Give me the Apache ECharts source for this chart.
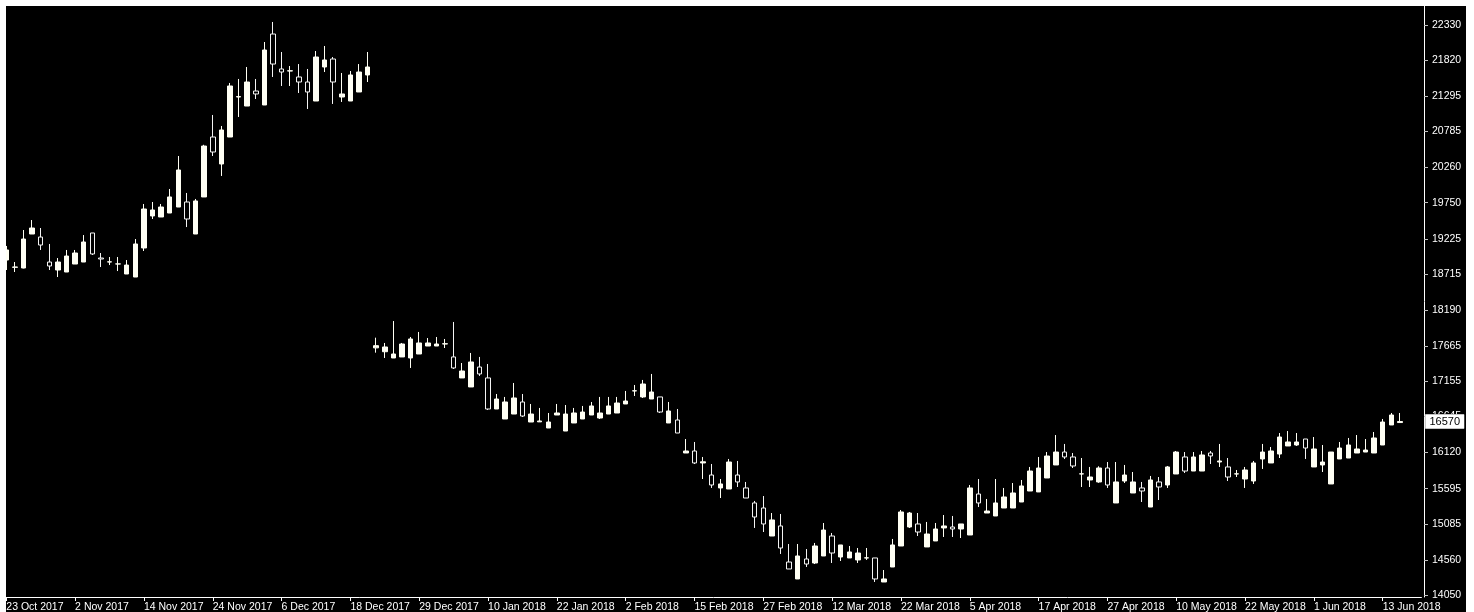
<!DOCTYPE html>
<html><head><meta charset="utf-8">
<script src="https://cdn.jsdelivr.net/npm/echarts@6/dist/echarts.min.js"></script>
<style>
html,body{margin:0;padding:0;background:#fff;width:1474px;height:612px;overflow:hidden}
#chart{position:absolute;left:6px;top:6px;width:1460px;height:606px;background:#000}
</style></head><body><div id="chart"></div>
<script>
const dates = [
'23 Oct 2017','24 Oct 2017','25 Oct 2017','26 Oct 2017','27 Oct 2017','30 Oct 2017','31 Oct 2017','1 Nov 2017',
'2 Nov 2017','3 Nov 2017','6 Nov 2017','7 Nov 2017','8 Nov 2017','9 Nov 2017','10 Nov 2017','13 Nov 2017',
'14 Nov 2017','15 Nov 2017','16 Nov 2017','17 Nov 2017','20 Nov 2017','21 Nov 2017','22 Nov 2017','23 Nov 2017',
'24 Nov 2017','27 Nov 2017','28 Nov 2017','29 Nov 2017','30 Nov 2017','1 Dec 2017','4 Dec 2017','5 Dec 2017',
'6 Dec 2017','7 Dec 2017','8 Dec 2017','11 Dec 2017','12 Dec 2017','13 Dec 2017','14 Dec 2017','15 Dec 2017',
'18 Dec 2017','19 Dec 2017','20 Dec 2017','21 Dec 2017','22 Dec 2017','26 Dec 2017','27 Dec 2017','28 Dec 2017',
'29 Dec 2017','1 Jan 2018','2 Jan 2018','3 Jan 2018','4 Jan 2018','5 Jan 2018','8 Jan 2018','9 Jan 2018',
'10 Jan 2018','11 Jan 2018','12 Jan 2018','15 Jan 2018','16 Jan 2018','17 Jan 2018','18 Jan 2018','19 Jan 2018',
'22 Jan 2018','23 Jan 2018','24 Jan 2018','25 Jan 2018','29 Jan 2018','30 Jan 2018','31 Jan 2018','1 Feb 2018',
'2 Feb 2018','5 Feb 2018','6 Feb 2018','7 Feb 2018','8 Feb 2018','12 Feb 2018','13 Feb 2018','14 Feb 2018',
'15 Feb 2018','16 Feb 2018','19 Feb 2018','20 Feb 2018','21 Feb 2018','22 Feb 2018','23 Feb 2018','26 Feb 2018',
'27 Feb 2018','28 Feb 2018','1 Mar 2018','2 Mar 2018','5 Mar 2018','6 Mar 2018','7 Mar 2018','8 Mar 2018',
'12 Mar 2018','13 Mar 2018','14 Mar 2018','15 Mar 2018','16 Mar 2018','19 Mar 2018','20 Mar 2018','21 Mar 2018',
'22 Mar 2018','23 Mar 2018','26 Mar 2018','27 Mar 2018','28 Mar 2018','29 Mar 2018','3 Apr 2018','4 Apr 2018',
'5 Apr 2018','6 Apr 2018','9 Apr 2018','10 Apr 2018','11 Apr 2018','12 Apr 2018','13 Apr 2018','16 Apr 2018',
'17 Apr 2018','18 Apr 2018','19 Apr 2018','20 Apr 2018','23 Apr 2018','24 Apr 2018','25 Apr 2018','26 Apr 2018',
'27 Apr 2018','30 Apr 2018','2 May 2018','3 May 2018','4 May 2018','7 May 2018','8 May 2018','9 May 2018',
'10 May 2018','11 May 2018','14 May 2018','15 May 2018','16 May 2018','17 May 2018','18 May 2018','21 May 2018',
'22 May 2018','23 May 2018','24 May 2018','25 May 2018','28 May 2018','29 May 2018','30 May 2018','31 May 2018',
'1 Jun 2018','4 Jun 2018','5 Jun 2018','6 Jun 2018','7 Jun 2018','8 Jun 2018','11 Jun 2018','12 Jun 2018',
'13 Jun 2018','14 Jun 2018','15 Jun 2018'
];
const opens = [
18916,18810,18800,19294,19250,18887,18771,18742,18858,18887,19309,18945,18887,18858,18713,18669,
19091,19556,19541,19599,19686,19759,19294,19832,20703,20311,20703,21284,21153,21371,21168,22199,
21691,21662,21575,21502,21226,21720,21836,21284,21226,21357,21604,
17640,17584,17493,17508,17493,17551,17667,17667,17696,17508,17203,17072,17362,17203,16752,16607,
16679,16854,16563,16565,16476,16665,16432,16549,16607,16665,16621,16679,16694,16825,17014,16927,
16897,16927,16549,16592,16113,16142,15968,15793,15605,15590,15793,15605,15387,15314,14907,15053,
14529,14283,14573,14515,14617,14907,14602,14588,14559,14588,14588,14239,14457,14762,15038,15082,
14748,14835,15024,15038,15009,14922,15517,15241,15198,15314,15314,15401,15561,15547,15750,15939,
16127,16055,15808,15721,15692,15895,15387,15706,15532,15605,15328,15692,15648,15808,16055,15851,
15851,16113,15982,15910,15808,15735,15706,16026,15968,16098,16215,16229,16316,15910,15939,15663,
16026,16040,16113,16127,16113,16229,16520,16555
];
const closes = [
19062,18815,19221,19381,19134,18829,18887,18974,19018,19178,19004,18931,18890,18860,18843,19149,
19657,19643,19686,19832,20224,19512,19774,20572,20485,20805,21444,21290,21502,21328,21967,21763,
21647,21665,21502,21357,21865,21822,21502,21328,21604,21647,21720,
17672,17653,17551,17696,17769,17711,17711,17696,17700,17348,17304,17435,17261,16752,16897,16854,
16912,16650,16679,16578,16563,16694,16679,16694,16708,16796,16694,16796,16839,16868,17017,17115,
16999,16708,16723,16403,16142,15968,15985,15648,15663,15982,15692,15459,15183,15082,15140,14733,
14428,14617,14500,14762,14994,14660,14777,14675,14660,14590,14283,14283,14777,15256,15241,14965,
14936,15009,15053,15009,15082,15605,15387,15270,15387,15474,15532,15634,15851,15895,16069,16127,
16055,15924,15810,15764,15895,15648,15692,15793,15692,15561,15721,15619,15910,16127,15851,16055,
16084,16069,15997,15764,15810,15866,15968,16127,16142,16345,16273,16273,16185,16171,15982,16127,
16185,16229,16171,16156,16331,16563,16665,16570
];
const lows = [
18771,18742,18795,19294,19062,18771,18669,18742,18858,18887,18989,18814,18843,18756,18713,18669,
19047,19512,19541,19599,19686,19395,19294,19832,20427,20137,20703,20994,21153,21255,21168,21575,
21444,21444,21342,21110,21226,21647,21183,21212,21226,21357,21502,
17570,17493,17493,17508,17348,17551,17667,17667,17638,17333,17203,17072,17232,16737,16752,16607,
16679,16636,16563,16563,16476,16665,16432,16549,16607,16665,16607,16679,16694,16825,16941,16912,
16897,16694,16549,16403,16113,15953,15735,15605,15459,15590,15619,15459,15024,14965,14907,14646,
14428,14283,14457,14500,14617,14515,14544,14588,14515,14559,14239,14239,14457,14762,15024,14907,
14748,14835,14893,14893,14878,14922,15328,15241,15198,15314,15314,15401,15561,15547,15750,15939,
16026,15895,15619,15619,15680,15605,15387,15677,15532,15401,15328,15430,15605,15808,15822,15851,
15851,15953,15910,15706,15764,15605,15663,15881,15968,16040,16215,16215,16026,15910,15837,15663,
16026,16040,16113,16127,16113,16229,16520,16550
];
const highs = [
19120,18887,19352,19497,19381,19149,18945,19062,19062,19279,19309,19018,18960,18960,18916,19221,
19730,19759,19730,19948,20427,19890,19803,20590,21023,20863,21488,21546,21720,21546,22083,22374,
21938,21734,21763,21691,21952,22025,21865,21633,21662,21763,21938,
17788,17711,18030,17711,17798,17871,17783,17798,17769,18016,17420,17566,17508,17406,16970,16927,
17130,16970,16825,16767,16694,16825,16810,16767,16796,16854,16927,16927,16927,17014,17101,17174,
17261,16927,16854,16752,16316,16273,16055,15953,15735,16026,15997,15692,15416,15488,15241,15227,
14791,14791,14718,14806,15096,14951,14777,14762,14733,14733,14588,14413,14864,15285,15256,15241,
15111,15096,15212,15198,15082,15648,15735,15445,15735,15605,15677,15721,15910,16055,16127,16374,
16244,16113,16040,15910,15920,15982,15982,15939,15837,15692,15779,15764,15924,16142,16127,16127,
16142,16142,16244,16040,15866,15910,15997,16244,16200,16403,16432,16403,16316,16345,16229,16127,
16273,16331,16374,16316,16418,16607,16694,16694
];
const yTicks = [14050,14560,15085,15595,16120,16645,17155,17665,18190,18715,19225,19750,20260,20785,21295,21820,22330];
const lastPrice = 16570;
const emptySlots = ['', ''];

const candles = dates.map((d, i) => [opens[i], closes[i], lows[i], highs[i]]);
const fontFam = '"Liberation Sans", Arial, sans-serif';
const band = 8.6025;
const nCat = dates.length + emptySlots.length;

const chart = echarts.init(document.getElementById('chart'), null, {renderer: 'canvas'});
chart.setOption({
  backgroundColor: '#000',
  animation: false,
  grid: {left: -4, top: 0, width: nCat * band, height: 591, outerBoundsMode: 'none'},
  xAxis: {
    type: 'category',
    data: dates.concat(emptySlots),
    boundaryGap: true,
    axisLine: {show: true, lineStyle: {color: '#ffffff', width: 1}},
    axisTick: {show: true, interval: 7, alignWithLabel: true, length: 4, lineStyle: {color: '#ffffff'}},
    axisLabel: {interval: 7, align: 'left', color: '#ffffff', fontSize: 10.5, fontFamily: fontFam, margin: 5, hideOverlap: false},
    splitLine: {show: false}
  },
  yAxis: {
    type: 'value',
    position: 'right',
    offset: 2.6,
    min: 14021,
    max: 22606,
    scale: true,
    axisLine: {show: true, lineStyle: {color: '#ffffff', width: 1}},
    axisTick: {show: true, customValues: yTicks, length: 4, inside: false, lineStyle: {color: '#c0c0c0'}},
    axisLabel: {customValues: yTicks, color: '#ffffff', fontSize: 10.5, fontFamily: fontFam, margin: 8, padding: [4, 0, 0, 0], formatter: v => String(v)},
    splitLine: {show: false}
  },
  series: [{
    type: 'candlestick',
    data: candles,
    barWidth: 5,
    itemStyle: {color: '#fffff4', color0: '#000000', borderColor: '#fffff4', borderColor0: '#f4f4f4', borderWidth: 1},
    markLine: {
      silent: true,
      symbol: 'none',
      lineStyle: {opacity: 0},
      data: [{yAxis: lastPrice}],
      label: {show: true, position: 'end', distance: 4, formatter: String(lastPrice), color: '#000', backgroundColor: '#ffffff',
              borderColor: '#888', borderWidth: 0.5,
              fontSize: 11, fontFamily: fontFam, padding: [2, 4, 1, 4], opacity: 1}
    }
  }]
});
</script></body></html>
